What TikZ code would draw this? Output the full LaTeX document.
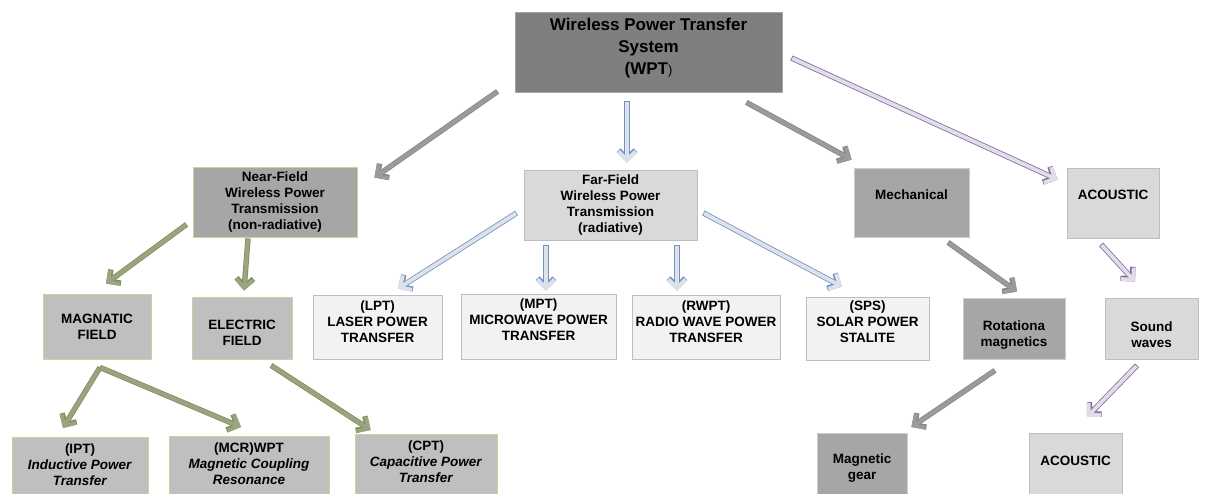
\documentclass[tikz,border=0pt]{standalone}
\usepackage{fontspec}
\setmainfont{Liberation Sans}
\usetikzlibrary{arrows.meta,calc}

\definecolor{wptfill}{RGB}{127,127,127}
\definecolor{wptline}{RGB}{165,165,165}
\definecolor{darkfill}{RGB}{166,166,166}
\definecolor{darkline}{RGB}{205,205,205}
\definecolor{fieldfill}{RGB}{191,191,191}
\definecolor{greenline}{RGB}{196,214,160}
\definecolor{lightfill}{RGB}{217,217,217}
\definecolor{lightline}{RGB}{190,190,190}
\definecolor{palefill}{RGB}{242,242,242}
\definecolor{grayin}{RGB}{155,155,155}
\definecolor{grayout}{RGB}{135,135,135}
\definecolor{bluein}{RGB}{221,226,233}
\definecolor{blueout}{RGB}{112,146,196}
\definecolor{greenin}{RGB}{155,163,132}
\definecolor{greenout}{RGB}{125,148,78}
\definecolor{purplein}{RGB}{226,222,232}
\definecolor{purpleout}{RGB}{130,104,164}

\begin{document}
\begin{tikzpicture}[x=1pt,y=-1pt,every node/.style={draw, align=center, line width=0.8pt, inner sep=2pt, font=\bfseries\fontsize{13.5}{16}\selectfont},
wptbox/.style={fill=wptfill, draw=wptline, font=\bfseries\fontsize{17}{22}\selectfont},
darkbox/.style={fill=darkfill, draw=darkline},
nearbox/.style={fill=darkfill, draw=greenline},
fieldbox/.style={fill=fieldfill, draw=greenline},
lightbox/.style={fill=lightfill, draw=lightline},
palebox/.style={fill=palefill, draw=lightline},
blockarrow/.style 2 args={draw=#1, line width=3.8pt, shorten <=0.8pt, -{Straight Barb[length=8.5pt,width=17pt]}, preaction={draw=#2, line width=5.4pt, shorten <=0pt}},
grayarrow/.style={blockarrow={grayin}{grayout}},
bluearrow/.style={blockarrow={bluein}{blueout}},
greenarrow/.style={blockarrow={greenin}{greenout}},
purplearrow/.style={blockarrow={purplein}{purpleout}}]
\useasboundingbox (0,0) rectangle (1206,494);
\clip (0,0) rectangle (1206,494);

\node[wptbox, minimum width=267pt, minimum height=80pt] (wpt) at (648.5,52) {Wireless Power Transfer\\System\\(WPT{\mdseries\fontsize{13}{16}\selectfont)}\\[-10pt]~};

\node[nearbox, minimum width=164pt, minimum height=70pt] (near) at (275,202) {Near-Field\\Wireless Power\\Transmission\\(non-radiative)};
\node[lightbox, minimum width=173pt, minimum height=70pt] (far) at (610.5,205) {Far-Field\\Wireless Power\\Transmission\\(radiative)};
\node[darkbox, minimum width=115pt, minimum height=69pt] (mech) at (911.5,202.5) {Mechanical\\~};
\node[lightbox, minimum width=92pt, minimum height=70pt] (acou) at (1113,203) {ACOUSTIC\\~};

\node[fieldbox, minimum width=108pt, minimum height=65pt] (magn) at (97,326.5) {MAGNATIC\\FIELD};
\node[fieldbox, minimum width=100pt, minimum height=62pt] (elec) at (242,328) {~\\[2pt]ELECTRIC\\FIELD};
\node[palebox, minimum width=129pt, minimum height=64pt] (lpt) at (377.5,327) {(LPT)\\LASER POWER\\TRANSFER\\[-6pt]~};
\node[palebox, minimum width=155pt, minimum height=65pt] (mpt) at (538.5,326.5) {(MPT)\\MICROWAVE POWER\\TRANSFER\\[-3pt]~};
\node[palebox, minimum width=148pt, minimum height=64pt] (rwpt) at (706,327) {(RWPT)\\RADIO WAVE POWER\\TRANSFER\\[-6pt]~};
\node[palebox, minimum width=123pt, minimum height=63pt] (sps) at (867.5,328.5) {(SPS)\\SOLAR POWER\\STALITE\\[-3pt]~};
\node[darkbox, minimum width=102pt, minimum height=61pt] (rot) at (1014,328.5) {~\\[6pt]Rotationa\\magnetics};
\node[lightbox, minimum width=93pt, minimum height=61pt] (sound) at (1151.5,328.5) {~\\[6pt]Sound\\waves};

\node[fieldbox, anchor=north, minimum width=136pt, minimum height=70pt] (ipt) at (80,437) {(IPT)\\\textit{Inductive Power}\\\textit{Transfer}\\~};
\node[fieldbox, anchor=north, minimum width=160pt, minimum height=70pt] (mcr) at (249,436) {(MCR)WPT\\\textit{Magnetic Coupling}\\\textit{Resonance}\\~};
\node[fieldbox, anchor=north, minimum width=142pt, minimum height=70pt] (cpt) at (426,434) {(CPT)\\\textit{Capacitive Power}\\\textit{Transfer}\\~};
\node[darkbox, anchor=north, minimum width=90pt, minimum height=70pt] (gear) at (862,433) {Magnetic\\gear};
\node[lightbox, anchor=north, minimum width=93pt, minimum height=70pt] (acou2) at (1075.5,433) {ACOUSTIC\\~};

\draw[grayarrow] ($(wpt.south west)+(-17,-1)$) -- ($(near.north east)+(17,11)$);
\draw[bluearrow] ($(wpt.south)+(-21.5,9)$) -- ($(far.north)+(16.5,-7)$);
\draw[grayarrow] ($(wpt.south east)+(-36,10)$) -- ($(mech.north west)+(-2,-8)$);
\draw[purplearrow] ($(wpt.east)+(9,6)$) -- ($(acou.north west)+(-9,12)$);

\draw[greenarrow] ($(near.south west)+(-6,-13)$) -- ($(magn.north)+(9,-10)$);
\draw[greenarrow] ($(near.south)+(-27,1)$) -- ($(elec.north)+(2,-6)$);
\draw[bluearrow] ($(far.west)+(-7,8)$) -- ($(lpt.north)+(20.5,-6)$);
\draw[bluearrow] ($(far.south)+(-64.5,5)$) -- ($(mpt.north)+(7.5,-3)$);
\draw[bluearrow] ($(far.south)+(66.5,5)$) -- ($(rwpt.north)+(-29,-4)$);
\draw[bluearrow] ($(far.east)+(6,8)$) -- ($(sps.north)+(-25.5,-10)$);
\draw[grayarrow] ($(mech.south)+(36.5,5)$) -- ($(rot.north)+(3,-6)$);
\draw[purplearrow] ($(acou.south)+(-12,6)$) -- ($(sound.north)+(-16.5,-16)$);

\draw[greenarrow] ($(magn.south)+(3,8)$) -- ($(ipt.north)+(-17,-9)$);
\draw[greenarrow] ($(magn.south)+(3,8)$) -- ($(mcr.north)+(-8,-9)$);
\draw[greenarrow] ($(elec.south)+(29,6)$) -- ($(cpt.north west)+(16,-4)$);
\draw[grayarrow] ($(rot.south)+(-19,11)$) -- ($(gear.north east)+(4,-6)$);
\draw[purplearrow] ($(sound.south)+(-14.5,6)$) -- ($(acou2.north)+(11.5,-16)$);
\end{tikzpicture}
\end{document}
